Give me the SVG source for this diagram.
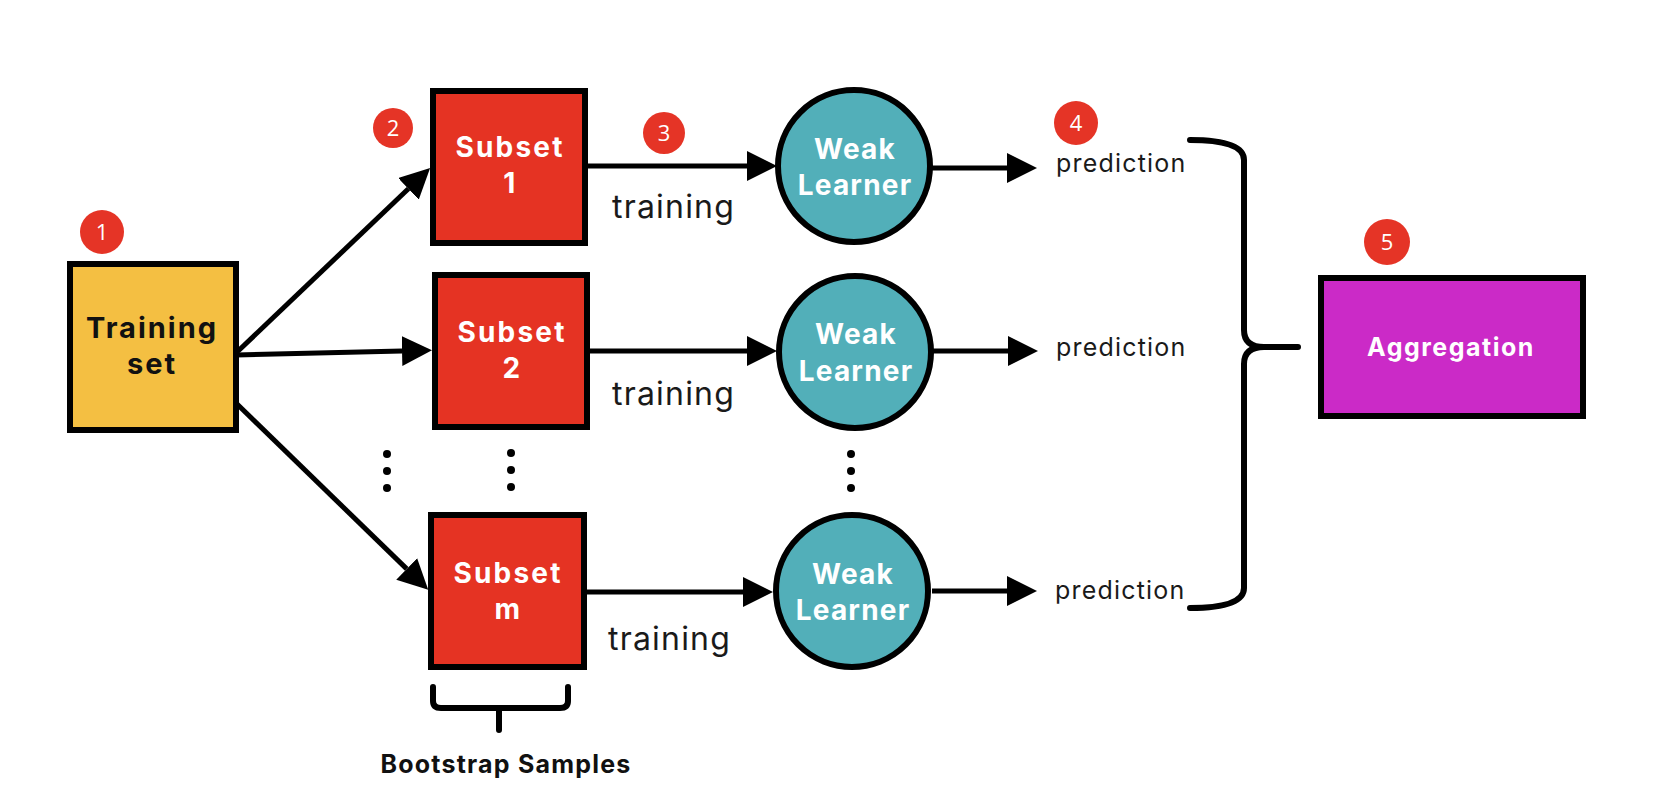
<svg xmlns="http://www.w3.org/2000/svg" width="1666" height="796" viewBox="0 0 1666 796">
<style>
.box{stroke:#000;stroke-width:6}
.bold{font-family:Inter,"Open Sans","Liberation Sans",sans-serif;font-weight:700;text-anchor:middle}
.wt{fill:#fff;font-size:28px;letter-spacing:1.2px}
.sub{letter-spacing:2.2px}
.reg{font-family:Inter,"Open Sans","Liberation Sans",sans-serif;font-weight:400;fill:#1a1a1a}
.tr{font-size:32px;letter-spacing:1.2px}
.pr{font-size:25px;letter-spacing:1.2px}
.badge{fill:#E53426}
.bn{font-family:"Open Sans",Inter,"Liberation Sans",sans-serif;font-size:22px;fill:#fff;text-anchor:middle}
.ln{stroke:#000;stroke-width:5;fill:none}
.br{stroke:#000;stroke-width:6;fill:none;stroke-linecap:round;stroke-linejoin:round}
.dot{fill:#000}
</style>
<defs>
<marker id="ah" markerUnits="userSpaceOnUse" markerWidth="30" markerHeight="30" viewBox="0 0 30 30" refX="0" refY="15" orient="auto">
<path d="M0,0 L30,15 L0,30 Z" fill="#000"/>
</marker>
</defs>
<rect width="1666" height="796" fill="#fff"/>

<g id="connectors">
<line class="ln" x1="236" y1="353" x2="408.4" y2="188.8" marker-end="url(#ah)"/>
<line class="ln" x1="236" y1="355" x2="402" y2="351" marker-end="url(#ah)"/>
<line class="ln" x1="236" y1="403" x2="406.7" y2="568.9" marker-end="url(#ah)"/>
<line class="ln" x1="588" y1="166" x2="747" y2="166" marker-end="url(#ah)"/>
<line class="ln" x1="590" y1="351" x2="747" y2="351" marker-end="url(#ah)"/>
<line class="ln" x1="587" y1="592" x2="743" y2="592" marker-end="url(#ah)"/>
<line class="ln" x1="932" y1="168" x2="1007" y2="168" marker-end="url(#ah)"/>
<line class="ln" x1="933" y1="351" x2="1008" y2="351" marker-end="url(#ah)"/>
<line class="ln" x1="932" y1="591" x2="1007" y2="591" marker-end="url(#ah)"/>
</g>

<g id="training-set">
<rect class="box" x="70" y="264" width="166" height="166" fill="#F4BF42"/>
<text class="bold" x="152" y="338" font-size="29" fill="#111" letter-spacing="2">Training</text>
<text class="bold" x="152" y="374" font-size="29" fill="#111" letter-spacing="2">set</text>
</g>

<g id="subset-1">
<rect class="box" x="433" y="91" width="152" height="152" fill="#E53323"/>
<text class="bold wt sub" x="510" y="157">Subset</text>
<text class="bold wt" x="510" y="193">1</text>
</g>
<g id="subset-2">
<rect class="box" x="435" y="275" width="152" height="152" fill="#E53323"/>
<text class="bold wt sub" x="512" y="342">Subset</text>
<text class="bold wt" x="512" y="378">2</text>
</g>
<g id="subset-m">
<rect class="box" x="431" y="515" width="153" height="152" fill="#E53323"/>
<text class="bold wt sub" x="508" y="583">Subset</text>
<text class="bold wt" x="508" y="619">m</text>
</g>

<g id="weak-learner-1">
<circle class="box" cx="854" cy="166" r="76" fill="#52AFB9"/>
<text class="bold wt" x="855" y="159">Weak</text>
<text class="bold wt" x="855" y="195">Learner</text>
</g>
<g id="weak-learner-2">
<circle class="box" cx="855" cy="352" r="76" fill="#52AFB9"/>
<text class="bold wt" x="856" y="344">Weak</text>
<text class="bold wt" x="856" y="381">Learner</text>
</g>
<g id="weak-learner-m">
<circle class="box" cx="852" cy="591" r="76" fill="#52AFB9"/>
<text class="bold wt" x="853" y="584">Weak</text>
<text class="bold wt" x="853" y="620">Learner</text>
</g>

<g id="aggregation">
<rect class="box" x="1321" y="278" width="262" height="138" fill="#CB2AC7"/>
<text class="bold" x="1451" y="356" font-size="25" fill="#fff" letter-spacing="1.5">Aggregation</text>
</g>

<g id="labels">
<text class="reg tr" x="612" y="218">training</text>
<text class="reg tr" x="612" y="405">training</text>
<text class="reg tr" x="608" y="650">training</text>
<text class="reg pr" x="1056" y="172">prediction</text>
<text class="reg pr" x="1056" y="356">prediction</text>
<text class="reg pr" x="1055" y="599">prediction</text>
<text class="bold" x="506" y="773" font-size="25" fill="#111" letter-spacing="1.2">Bootstrap Samples</text>
</g>

<g id="badges">
<circle class="badge" cx="102" cy="232" r="22"/><text class="bn" x="102" y="240">1</text>
<circle class="badge" cx="393" cy="128" r="20"/><text class="bn" x="393" y="136">2</text>
<circle class="badge" cx="664" cy="133" r="21"/><text class="bn" x="664" y="141">3</text>
<circle class="badge" cx="1076" cy="123" r="22"/><text class="bn" x="1076" y="131">4</text>
<circle class="badge" cx="1387" cy="242" r="23"/><text class="bn" x="1387" y="250">5</text>
</g>

<g id="dots">
<circle class="dot" cx="387" cy="454" r="4"/><circle class="dot" cx="387" cy="471" r="4"/><circle class="dot" cx="387" cy="488" r="4"/>
<circle class="dot" cx="511" cy="453" r="4"/><circle class="dot" cx="511" cy="470" r="4"/><circle class="dot" cx="511" cy="487" r="4"/>
<circle class="dot" cx="851" cy="454" r="4"/><circle class="dot" cx="851" cy="471" r="4"/><circle class="dot" cx="851" cy="488" r="4"/>
</g>

<g id="braces">
<path class="br" d="M1190,140 Q1244,140 1244,160 L1244,330 Q1244,347 1264,347 L1298,347 M1264,347 Q1244,347 1244,364 L1244,588 Q1244,608 1190,608"/>
<path class="br" d="M433,687 L433,701 Q433,708 441,708 L560,708 Q568,708 568,701 L568,687 M499,708 L499,730"/>
</g>
</svg>
